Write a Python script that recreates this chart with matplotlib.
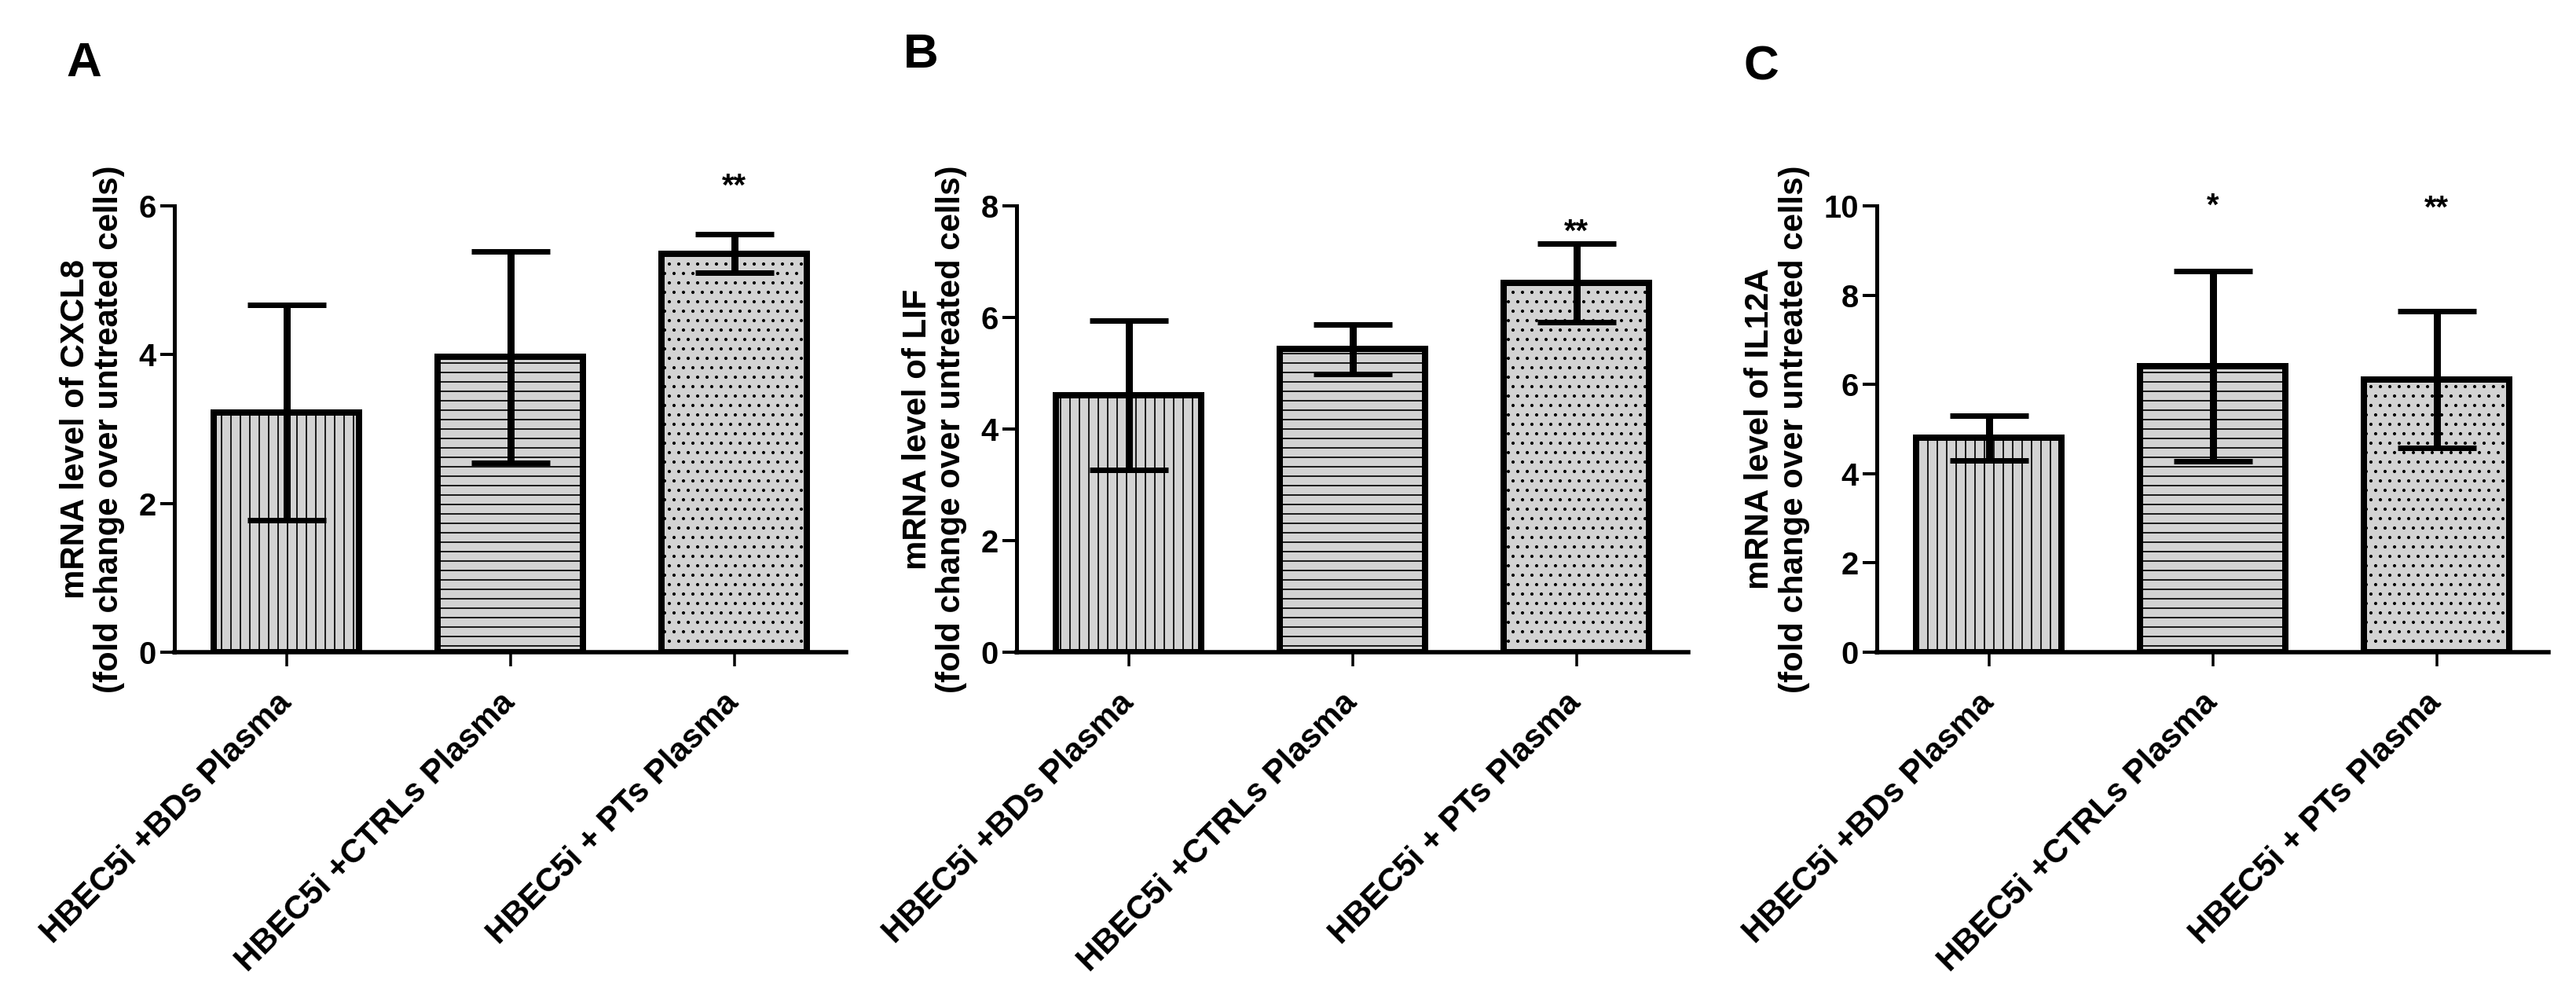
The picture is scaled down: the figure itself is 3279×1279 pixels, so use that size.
import numpy as np
import matplotlib
matplotlib.use('Agg')
import matplotlib.pyplot as plt

plt.rcParams['font.family'] = ['Liberation Sans', 'DejaVu Sans']
plt.rcParams['font.weight'] = 'bold'
plt.rcParams['axes.labelweight'] = 'bold'
plt.rcParams['hatch.linewidth'] = 1.7
plt.rcParams['hatch.color'] = 'black'

# data
groups = ['HBEC5i +BDs Plasma', 'HBEC5i +CTRLs Plasma', 'HBEC5i + PTs Plasma']
genes = ['CXCL8', 'LIF', 'IL12A']
panel_tags = ['A', 'B', 'C']

cxcl8_mean = [3.22, 3.97, 5.36]
cxcl8_err = [1.45, 1.42, 0.26]
lif_mean = [4.61, 5.43, 6.62]
lif_err = [1.34, 0.44, 0.70]
il12a_mean = [4.80, 6.41, 6.11]
il12a_err = [0.50, 2.13, 1.53]

y_top = [6, 8, 10]
stars = [['', '', '**'], ['', '', '**'], ['', '*', '**']]
star_y = [[0, 0, 6.46], [0, 0, 7.79], [0, 10.32, 10.26]]

means = [cxcl8_mean, lif_mean, il12a_mean]
errs = [cxcl8_err, lif_err, il12a_err]
hatches = ['|', '-', '.']

W, H = 3279, 1279
dpi = 72
fig = plt.figure(figsize=(W / dpi, H / dpi), dpi=dpi)

lefts = [222, 1294, 2389]
ax_w = 855
ax_top, ax_bot = 262, 830
tag_pos = [(84, 53), (1150, 42), (2220, 58)]

x = np.arange(len(groups))
for k in range(3):
    ax = fig.add_axes([lefts[k] / W, 1 - ax_bot / H, ax_w / W, (ax_bot - ax_top) / H])
    bars = ax.bar(x, means[k], width=0.65, color='#d3d3d3', edgecolor='black',
                  linewidth=8, zorder=2)
    for b, h in zip(bars, hatches):
        b.set_hatch(h)
    ax.errorbar(x, means[k], yerr=errs[k], fmt='none', ecolor='black',
                elinewidth=9, capsize=50, capthick=7, zorder=3)

    ax.set_xlim(-0.5, 2.5)
    ax.set_ylim(0, y_top[k])
    ax.set_yticks(np.arange(0, y_top[k] + 1, 2))
    ax.spines['top'].set_visible(False)
    ax.spines['right'].set_visible(False)
    ax.spines['left'].set_linewidth(5)
    ax.spines['bottom'].set_linewidth(5.5)
    ax.tick_params(axis='y', direction='out', length=18, width=4, pad=5, labelsize=40)
    ax.tick_params(axis='x', direction='out', length=18, width=3.5, pad=40)
    ax.set_xticks(x)
    ax.set_xticklabels(groups, rotation=45, ha='right', va='center',
                       rotation_mode='anchor', fontsize=42, fontweight='bold')
    ax.set_ylabel('mRNA level of ' + genes[k] + '\n(fold change over untreated cells)',
                  fontsize=42, fontweight='bold', linespacing=1.1, labelpad=18)

    for i in range(3):
        if stars[k][i]:
            ax.text(x[i], star_y[k][i], stars[k][i], ha='center', va='top',
                    fontsize=40, fontweight='bold')

    fig.text(tag_pos[k][0] / W, 1 - tag_pos[k][1] / H, panel_tags[k],
             ha='left', va='top', fontsize=62, fontweight='bold')

fig.savefig('out.png', dpi=dpi)
